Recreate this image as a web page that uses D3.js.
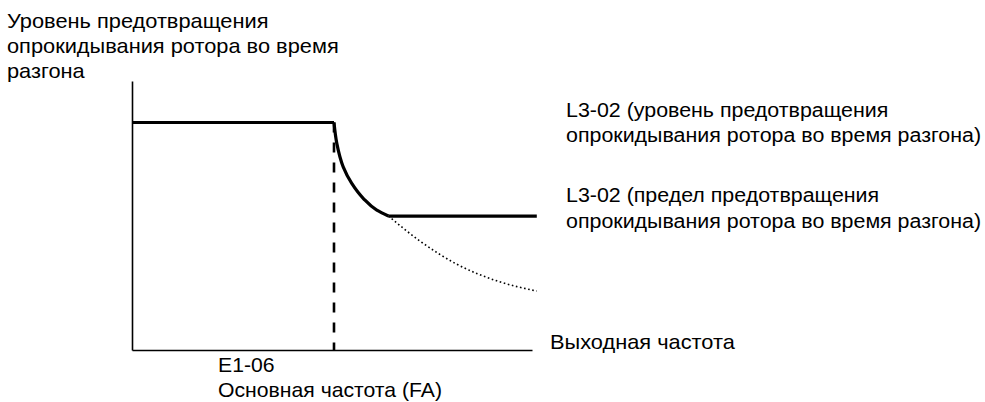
<!DOCTYPE html>
<html>
<head>
<meta charset="utf-8">
<script src="https://cdn.jsdelivr.net/npm/d3@7"></script>
<style>
  html, body { margin: 0; padding: 0; background: #fff; }
  svg { display: block; }
  text { font-family: "Liberation Sans", Arial, sans-serif; font-size: 20px; fill: #000; }
</style>
</head>
<body>
<svg id="chart" width="985" height="402"></svg>
<script>
// ---- data (output frequency on x, stall prevention level on y, both in % of axis) ----
const plateauX = [0, 50.5];
const plateauY = [84.6, 84.6];
const curveX = [50.5, 51.2, 52.8, 54.9, 57.8, 61.2, 64.1];
const curveY = [84.6, 76.8, 68.1, 62.0, 56.4, 52.0, 49.8];
const limitX = [64.1, 101.2];
const limitY = [49.8, 49.8];
const dottedX = [64.1, 72.0, 81.2, 91.2, 101.2];
const dottedY = [49.8, 40.5, 31.9, 25.7, 21.9];
const baseFreq = 50.5;
const yAxisLabel = ["Уровень предотвращения", "опрокидывания ротора во время", "разгона"];
const levelLabel = ["L3-02 (уровень предотвращения", "опрокидывания ротора во время разгона)"];
const limitLabel = ["L3-02 (предел предотвращения", "опрокидывания ротора во время разгона)"];
const xAxisLabel = ["Выходная частота"];
const baseLabel = ["E1-06", "Основная частота (FA)"];

const svg = d3.select("#chart");
const x = d3.scaleLinear().domain([0, 100]).range([132, 532]);
const y = d3.scaleLinear().domain([0, 100]).range([350, 81]);

// axes
svg.append("g").attr("transform", `translate(0,${y(0)})`)
  .call(d3.axisBottom(x).ticks(0).tickSizeOuter(0));
svg.append("g").attr("transform", `translate(${x(0)},0)`)
  .call(d3.axisLeft(y).ticks(0).tickSizeOuter(0));
svg.selectAll(".domain").attr("stroke", "#000").attr("stroke-width", 1.6);

const zip = (a, b) => a.map((v, i) => [v, b[i]]);
const line = d3.line().x(d => x(d[0])).y(d => y(d[1]));

// dashed base-frequency line
svg.append("path")
  .attr("d", line([[baseFreq, plateauY[0]], [baseFreq, 0]]))
  .attr("fill", "none").attr("stroke", "#000").attr("stroke-width", 2.6)
  .attr("stroke-dasharray", "10,10");

// dotted continuation of the curve
svg.append("path")
  .attr("d", d3.line().x(d => x(d[0])).y(d => y(d[1])).curve(d3.curveMonotoneX)(zip(dottedX, dottedY)))
  .attr("fill", "none").attr("stroke", "#000").attr("stroke-width", 1.6)
  .attr("stroke-dasharray", "1.6,2.6");

// plateau
svg.append("path")
  .attr("d", line(zip(plateauX, plateauY)))
  .attr("fill", "none").attr("stroke", "#000").attr("stroke-width", 3);

// curve
svg.append("path")
  .attr("d", d3.line().x(d => x(d[0])).y(d => y(d[1])).curve(d3.curveMonotoneY)(zip(curveX, curveY)))
  .attr("fill", "none").attr("stroke", "#000").attr("stroke-width", 3.2)
  .attr("stroke-linejoin", "round");

// limit
svg.append("path")
  .attr("d", line(zip(limitX, limitY)))
  .attr("fill", "none").attr("stroke", "#000").attr("stroke-width", 3.2);

// labels (reference typeface is slightly wider than Arial -> horizontal stretch)
function block(lines, px, py, dy, stretch) {
  const g = svg.append("g").attr("transform", `translate(${px},0) scale(${stretch},1)`);
  const t = g.append("text").attr("x", 0).attr("y", py);
  lines.forEach((s, i) => t.append("tspan").attr("x", 0).attr("y", py + i * dy).text(s));
}
block(yAxisLabel, 7, 28.3, 25, 1.09);
block(levelLabel, 566, 116.7, 25.7, 1.07);
block(limitLabel, 566, 202.3, 26, 1.07);
block(xAxisLabel, 550, 349.3, 25, 1.09);
block(baseLabel, 218, 372, 25, 1.06);
</script>
</body>
</html>
